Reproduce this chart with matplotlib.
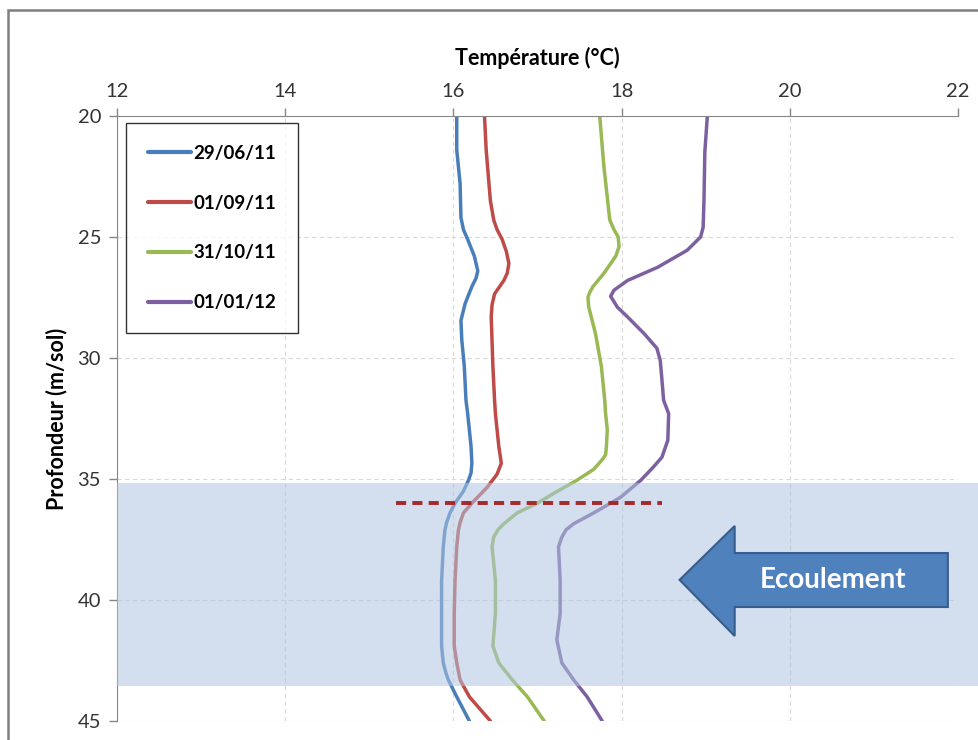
import matplotlib
matplotlib.use("Agg")
import matplotlib.pyplot as plt
from matplotlib.patches import Rectangle, Polygon

plt.rcParams['font.family'] = ['Lato', 'DejaVu Sans']

# profils de température (°C) en fonction de la profondeur (m/sol)
prof_290611 = [20, 21.4, 22.8, 24.2, 24.7, 25.1, 25.8, 26.4, 26.7, 27.05, 27.75, 28.45, 29.25, 30.35, 31.75,
               32.3, 33.65, 34.35, 34.75, 35.05, 35.5, 36.0, 36.4, 36.8, 37.1, 37.8, 39.2, 40.55, 41.9, 42.6,
               43.0, 43.3, 44.0, 45.0]
temp_290611 = [16.04, 16.04, 16.08, 16.09, 16.12, 16.17, 16.25, 16.29, 16.27, 16.22, 16.14, 16.09, 16.10, 16.13, 16.15,
               16.17, 16.21, 16.22, 16.21, 16.18, 16.12, 16.02, 15.96, 15.92, 15.90, 15.88, 15.86, 15.86, 15.86, 15.88,
               15.91, 15.94, 16.04, 16.19]

prof_010911 = [20, 21.4, 23.5, 24.3, 24.7, 25.1, 25.6, 26.1, 26.5, 26.8, 27.1, 27.35, 27.8, 28.3, 30.35, 31.75, 32.3,
               33.65, 34.35, 34.8, 35.35, 36.0, 36.4, 36.8, 37.1, 37.8, 39.2, 40.55, 41.9, 42.6, 43.3, 44.0, 45.0]
temp_010911 = [16.37, 16.39, 16.44, 16.48, 16.52, 16.58, 16.63, 16.66, 16.64, 16.60, 16.54, 16.49, 16.46, 16.45, 16.47, 16.49,
               16.50, 16.54, 16.57, 16.52, 16.40, 16.22, 16.12, 16.08, 16.06, 16.04, 16.02, 16.01, 16.01, 16.04, 16.08,
               16.19, 16.44]

prof_311011 = [20, 22.1, 24.3, 24.7, 25.0, 25.4, 25.8, 26.5, 27.05, 27.3, 27.5, 27.9, 29.0, 30.35, 31.75,
               32.3, 32.95, 33.65, 34.0, 34.2, 34.6, 35.05, 35.6, 36.0, 36.4, 36.85, 37.1, 37.4, 37.8, 39.2,
               40.55, 41.9, 42.6, 43.3, 44.0, 45.0]
temp_311011 = [17.74, 17.79, 17.86, 17.91, 17.96, 17.97, 17.93, 17.79, 17.66, 17.62, 17.60, 17.61, 17.69, 17.76, 17.80,
               17.81, 17.83, 17.82, 17.81, 17.77, 17.67, 17.47, 17.19, 17.00, 16.76, 16.60, 16.53, 16.48, 16.46, 16.50,
               16.50, 16.47, 16.54, 16.70, 16.88, 17.08]

prof_010112 = [20, 21.5, 23.5, 24.6, 25.0, 25.55, 26.25, 26.8, 27.2, 27.45, 27.9, 28.3, 29.0, 29.6, 30.1,
               30.9, 31.75, 32.3, 33.4, 34.1, 34.5, 35.05, 35.75, 36.0, 36.4, 36.85, 37.1, 37.4, 37.8,
               39.2, 40.55, 41.65, 42.6, 43.3, 44.0, 45.0]
temp_010112 = [19.02, 18.99, 18.98, 18.97, 18.94, 18.78, 18.43, 18.07, 17.91, 17.87, 17.95, 18.07, 18.27, 18.42, 18.46,
               18.48, 18.50, 18.56, 18.55, 18.48, 18.38, 18.23, 17.99, 17.87, 17.67, 17.43, 17.34, 17.29, 17.25,
               17.27, 17.27, 17.23, 17.29, 17.43, 17.59, 17.77]

series = [
    ('29/06/11', prof_290611, temp_290611, '#4A7EBB'),
    ('01/09/11', prof_010911, temp_010911, '#BE4B48'),
    ('31/10/11', prof_311011, temp_311011, '#98B954'),
    ('01/01/12', prof_010112, temp_010112, '#7D60A0'),
]

# zone d'écoulement et niveau repère
zone_top, zone_bot = 35.17, 43.55
niveau = 36.0
niveau_x = [15.32, 18.48]

fig = plt.figure(figsize=(9.79, 7.40), dpi=100)
ax = fig.add_axes([0.1195, 0.0257, 0.859, 0.8176])

for label, prof, temp, col in series:
    ax.plot(temp, prof, color=col, lw=2.5, label=label, zorder=2,
            solid_capstyle='round', solid_joinstyle='round')

ax.set_xlim(12, 22)
ax.set_ylim(45, 20)
ax.set_xticks([12, 14, 16, 18, 20, 22])
ax.set_yticks([20, 25, 30, 35, 40, 45])
ax.xaxis.tick_top()
ax.xaxis.set_label_position('top')
ax.tick_params(axis='both', labelsize=14.5, colors='#868686', labelcolor='#333333',
               length=5.5, width=1, direction='out', pad=6)
ax.set_xlabel('Température (°C)', fontsize=15.5, fontweight='bold', labelpad=13)
ax.set_ylabel('Profondeur (m/sol)', fontsize=15.5, fontweight='bold', labelpad=7)
ax.grid(True, color='#D9D9D9', lw=0.8, ls=(0, (4, 3)), zorder=0)
for s in ['right', 'bottom']:
    ax.spines[s].set_visible(False)
for s in ['left', 'top']:
    ax.spines[s].set_color('#868686')
ax.set_axisbelow(True)

# bande bleue (par-dessus les courbes)
band = Rectangle((12, zone_top), 10.3, zone_bot - zone_top, facecolor='#AFC5E0',
                 alpha=0.55, edgecolor='none', zorder=3, clip_on=False)
ax.add_patch(band)

ax.plot(niveau_x, [niveau, niveau], color='#A5282A', lw=2.8, ls=(0, (2.6, 1.6)), zorder=4)

# flèche "Ecoulement"
arrow_x = [18.69, 19.345, 19.345, 21.88, 21.88, 19.345, 19.345]
arrow_y = [39.17, 36.94, 38.06, 38.06, 40.29, 40.29, 41.49]
ax.add_patch(Polygon(list(zip(arrow_x, arrow_y)), closed=True, facecolor='#4F81BD',
                     edgecolor='#385D8A', lw=1.5, zorder=5))
ax.text(20.52, 39.17, 'Ecoulement', color='white', fontsize=20, fontweight='bold',
        ha='center', va='center', zorder=6)

leg = ax.legend(loc='upper left', bbox_to_anchor=(0.0107, 0.988), frameon=True, fancybox=False,
                prop={'size': 13.5, 'weight': 'bold'}, labelspacing=1.75, handlelength=2.3,
                handletextpad=0.15, borderpad=1.15, borderaxespad=0)
leg.get_frame().set_edgecolor('black')
leg.get_frame().set_linewidth(1.0)
for h in leg.get_lines():
    h.set_linewidth(3)

# cadre du graphique
fig.patches.append(Rectangle((8 / 979, -0.1), 1.2, 1 - 10 / 740 + 0.1, transform=fig.transFigure,
                             fill=False, edgecolor='#7F7F7F', lw=1.8))

fig.savefig('out.png', dpi=100)
